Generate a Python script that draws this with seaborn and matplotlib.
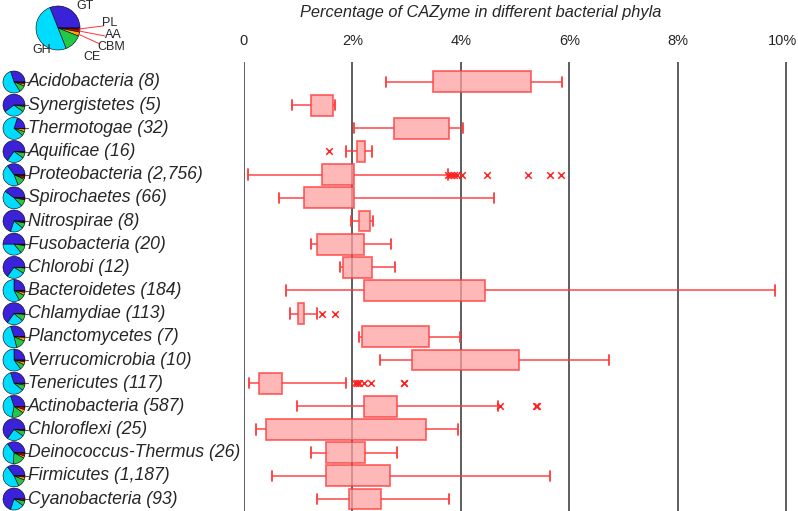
import numpy as np
import pandas as pd
import seaborn as sns
import matplotlib.pyplot as plt
import matplotlib.transforms as mtransforms
from matplotlib.lines import Line2D

# phyla (top to bottom) and number of genomes
phyla = ['Acidobacteria', 'Synergistetes', 'Thermotogae', 'Aquificae', 'Proteobacteria',
         'Spirochaetes', 'Nitrospirae', 'Fusobacteria', 'Chlorobi', 'Bacteroidetes',
         'Chlamydiae', 'Planctomycetes', 'Verrucomicrobia', 'Tenericutes', 'Actinobacteria',
         'Chloroflexi', 'Deinococcus-Thermus', 'Firmicutes', 'Cyanobacteria']
genomes = ['8', '5', '32', '16', '2,756', '66', '8', '20', '12', '184',
           '113', '7', '10', '117', '587', '25', '26', '1,187', '93']

# box statistics (% of genes that are CAZymes)
whisker_lo = [2.61, 0.88, 2.03, 1.88, 0.08, 0.65, 1.97, 1.24, 1.77, 0.78,
              0.85, 2.12, 2.50, 0.09, 0.98, 0.22, 1.23, 0.51, 1.35]
q1 = [3.48, 1.24, 2.76, 2.08, 1.44, 1.11, 2.13, 1.34, 1.83, 2.21,
      0.99, 2.18, 3.10, 0.28, 2.21, 0.41, 1.52, 1.51, 1.94]
q3 = [5.29, 1.65, 3.79, 2.23, 2.03, 2.02, 2.32, 2.22, 2.37, 4.44,
      1.10, 3.42, 5.08, 0.71, 2.83, 3.36, 2.23, 2.69, 2.53]
whisker_hi = [5.87, 1.68, 4.04, 2.37, 3.77, 4.61, 2.38, 2.72, 2.78, 9.79,
              1.35, 3.99, 6.73, 1.89, 4.68, 3.95, 2.82, 5.65, 3.78]

outlier_phylum = ['Aquificae'] + ['Proteobacteria'] * 9 + ['Chlamydiae'] * 2 \
    + ['Tenericutes'] * 7 + ['Actinobacteria'] * 3
outlier_value = [1.57,
                 3.77, 3.82, 3.87, 3.93, 4.03, 4.49, 5.23, 5.65, 5.84,
                 1.44, 1.68,
                 2.05, 2.09, 2.12, 2.21, 2.35, 2.95, 2.96,
                 4.72, 5.38, 5.41]

# CAZyme module composition
modules = ['GT', 'PL', 'AA', 'CBM', 'CE', 'GH']
module_colors = ['#3a22d8', '#5a0000', '#d40000', '#ffaa00', '#22c84a', '#00dcff']
overall_share = [31, 1, 2, 3, 13, 50]
phylum_share = [
    [30, 1, 2, 3, 10, 54], [60, 0, 2, 0, 8, 30], [20, 0, 1, 4, 6, 69],
    [65, 0, 2, 0, 8, 25], [35, 2, 3, 2, 12, 46], [40, 0, 2, 1, 10, 47],
    [70, 1, 2, 0, 8, 19], [50, 1, 1, 0, 12, 36], [65, 0, 1, 0, 8, 26],
    [25, 1, 2, 4, 10, 58], [65, 0, 1, 0, 10, 24], [30, 0, 1, 5, 15, 49],
    [25, 1, 2, 4, 8, 60], [30, 0, 1, 2, 8, 59], [30, 1, 4, 5, 18, 42],
    [65, 0, 2, 0, 8, 25], [35, 1, 4, 3, 18, 39], [35, 0, 2, 4, 12, 47],
    [70, 0, 3, 0, 7, 20]]

sns.set_theme(style='white')
plt.rcParams['font.family'] = ['Liberation Sans', 'DejaVu Sans']

W, H = 798, 511
fig = plt.figure(figsize=(W / 100, H / 100), dpi=100)


def box_px(x, y, w, h):
    return [x / W, 1 - (y + h) / H, w / W, h / H]


def fig_xy(x, y):
    return x / W, 1 - y / H


def draw_pie(pax, share):
    # GT wedge ends at 3 o'clock, the rest follow clockwise
    start = 360 * share[0] / sum(share)
    pax.pie(share, colors=module_colors, startangle=start, counterclock=False,
            wedgeprops=dict(edgecolor='black', linewidth=0.4))
    pax.set_xlim(-1.09, 1.09)
    pax.set_ylim(-1.09, 1.09)
    pax.axis('off')


# long-form table: each phylum gets its five-number summary as samples
rows = []
for name, lo, a, b, hi in zip(phyla, whisker_lo, q1, q3, whisker_hi):
    for v in [lo, a, a, b, b, hi]:
        rows.append({'phylum': name, 'value': v})
df = pd.DataFrame(rows)
out = pd.DataFrame({'phylum': outlier_phylum, 'value': outlier_value})

ax = fig.add_axes(box_px(244, 62, 553, 449))
ax.set_axisbelow(True)
ax.grid(axis='x', color='#333333', linewidth=1.1)
sns.boxplot(data=df, x='value', y='phylum', order=phyla, orient='h', ax=ax,
            whis=(0, 100), width=0.9, saturation=1,
            color='#ffa0a0', linecolor='#ff3a3a', linewidth=1.3,
            boxprops=dict(alpha=0.75),
            whiskerprops=dict(alpha=0.8),
            medianprops=dict(linewidth=0))
sns.scatterplot(data=out, x='value', y='phylum', ax=ax, marker='x',
                color='#ff2020', s=22, linewidth=1.1, zorder=5)

ax.set_xlim(0, 10.2)
ax.set_ylim(18.52, -0.86)
ax.set_xticks([0, 2, 4, 6, 8, 10])
ax.set_xticklabels(['0', '2%', '4%', '6%', '8%', '10%'], fontsize=10.5)
ax.xaxis.tick_top()
ax.tick_params(axis='x', length=0, pad=10)
# nudge the last label so it stays inside the canvas
last = ax.get_xticklabels()[-1]
last.set_transform(last.get_transform() + mtransforms.ScaledTranslation(-4 / 100, 0, fig.dpi_scale_trans))
ax.set_yticks([])
ax.set_xlabel('')
ax.set_ylabel('')
for s in ax.spines.values():
    s.set_visible(False)

fig.text(481 / W, 1 - 12 / H, 'Percentage of CAZyme in different bacterial phyla',
         ha='center', va='center', fontsize=11.8, style='italic')

# small pies and labels per phylum
for i, (name, n, share) in enumerate(zip(phyla, genomes, phylum_share)):
    yc = 82 + 23.17 * i
    draw_pie(fig.add_axes(box_px(2, yc - 12, 24, 24)), share)
    fig.add_artist(Line2D([25 / W, 28 / W], [1 - yc / H] * 2, color='#555555', linewidth=0.8))
    fig.text(28 / W, 1 - yc / H, f'{name} ({n})', ha='left', va='center',
             fontsize=12.7, style='italic')

# overall composition pie
draw_pie(fig.add_axes(box_px(34, 4, 48, 48)), overall_share)

for lab, (x, y) in zip(modules,
                       [(85, 6), (110, 23), (113, 35), (111, 47), (92, 57), (42, 50)]):
    fig.text(*fig_xy(x, y), lab, ha='center', va='center', fontsize=9)
for (x0, y0), (x1, y1) in [((79, 29), (103, 26)), ((79, 31), (105, 36)), ((78, 34), (100, 44))]:
    fig.add_artist(Line2D([x0 / W, x1 / W], [1 - y0 / H, 1 - y1 / H],
                          color='#ff3333', linewidth=0.7))

fig.savefig('out.png', dpi=100)
